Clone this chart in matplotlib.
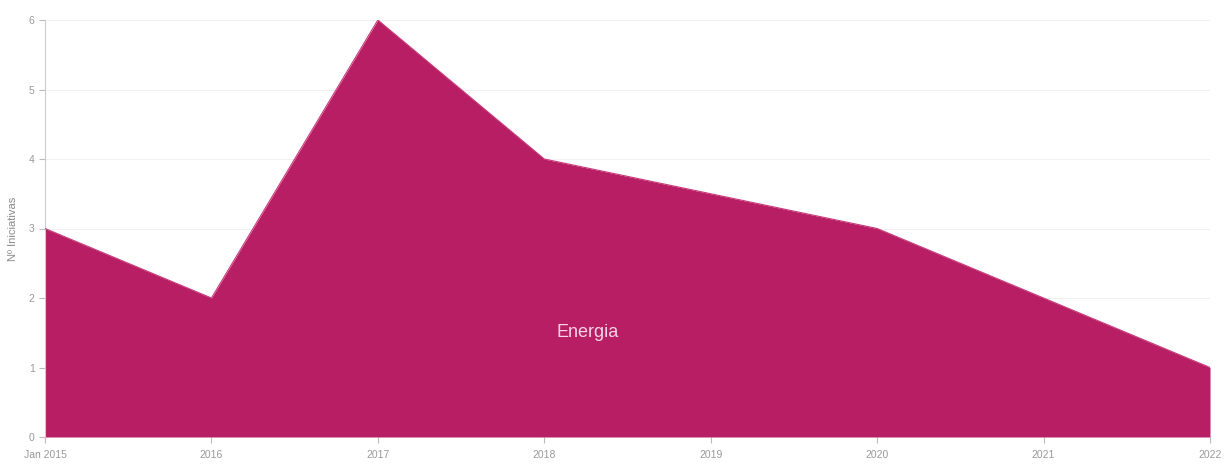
import matplotlib
matplotlib.use("Agg")
import matplotlib.pyplot as plt

years = [2015, 2016, 2017, 2018, 2019, 2020, 2021, 2022]
year_labels = ["Jan 2015", "2016", "2017", "2018", "2019", "2020", "2021", "2022"]
values = [3, 2, 6, 4, 3.5, 3, 2, 1]
series_name = "Energia"

plt.rcParams['font.family'] = ['Liberation Sans Narrow', 'Liberation Sans', 'DejaVu Sans']

fig = plt.figure(figsize=(12.25, 4.68), dpi=100)
ax = fig.add_axes([45/1225, 1-437/468, 1165/1225, 417/468])

color = "#B81E64"
ax.fill_between(years, values, 0, color=color, linewidth=0, zorder=2)
ax.plot(years, values, color="#C8387A", linewidth=0.8, zorder=3)

ax.set_xlim(years[0], years[-1])
ax.set_ylim(0, 6)
ax.set_xticks(years)
ax.set_xticklabels(year_labels)
ax.set_yticks(range(0, 7))
ax.grid(axis='y', color="#f0f0f0", linewidth=0.8, zorder=0)
ax.grid(axis='x', visible=False)
for s in ['top', 'right']:
    ax.spines[s].set_visible(False)
ax.spines['left'].set_color("#cccccc")
ax.spines['bottom'].set_visible(False)
ax.tick_params(axis='both', colors="#bbbbbb", labelcolor="#999999", labelsize=7.5, length=4, width=0.8)
ax.tick_params(axis='x', pad=5)
ax.set_ylabel("Nº Iniciativas", color="#888888", fontsize=8, labelpad=8)

ax.text(2018.26, 1.5, series_name, color="#F6D3E6", fontsize=13, ha='center', va='center', zorder=4)

fig.savefig("out.png", dpi=100)
